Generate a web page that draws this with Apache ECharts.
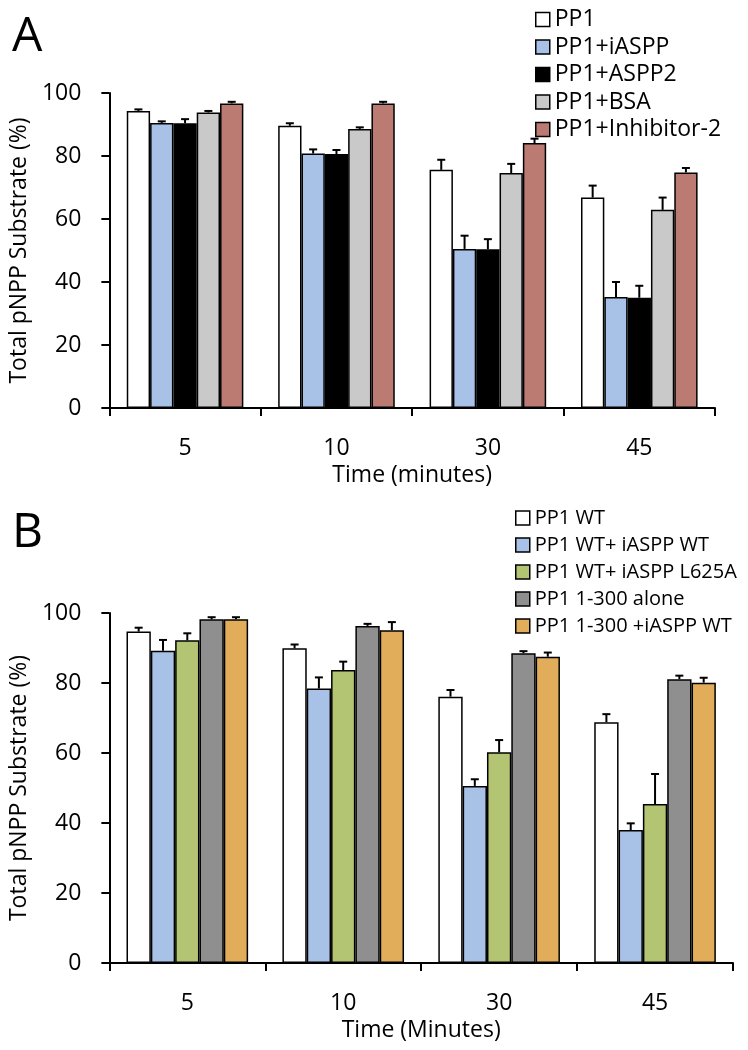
<!DOCTYPE html>
<html>
<head>
<meta charset="utf-8">
<script src="https://cdn.jsdelivr.net/npm/echarts@6/dist/echarts.min.js"></script>
<style>html,body{margin:0;padding:0;background:#fff}#c{width:748px;height:1050px}</style>
</head>
<body>
<div id="c"></div>
<script>
var categories = ['5', '10', '30', '45'];
var yTicks = [0, 20, 40, 60, 80, 100];

// Panel A
var namesA = ['PP1', 'PP1+iASPP', 'PP1+ASPP2', 'PP1+BSA', 'PP1+Inhibitor-2'];
var a_PP1 = [94.3, 89.6, 75.6, 66.8];
var a_PP1_err = [0.5, 0.8, 3.2, 3.8];
var a_iASPP = [90.5, 80.8, 50.5, 35.2];
var a_iASPP_err = [0.5, 1.3, 4.2, 4.8];
var a_ASPP2 = [90.4, 80.6, 50.4, 35.0];
var a_ASPP2_err = [1.3, 1.3, 3.2, 3.8];
var a_BSA = [93.8, 88.6, 74.6, 62.9];
var a_BSA_err = [0.5, 0.5, 2.9, 3.9];
var a_Inh2 = [96.7, 96.7, 84.1, 74.8];
var a_Inh2_err = [0.5, 0.5, 1.4, 1.4];

// Panel B
var namesB = ['PP1 WT', 'PP1 WT+ iASPP WT', 'PP1 WT+ iASPP L625A', 'PP1 1-300 alone', 'PP1 1-300 +iASPP WT'];
var b_WT = [94.7, 89.9, 76.1, 68.8];
var b_WT_err = [1.1, 1.1, 1.9, 2.3];
var b_WT_iASPP = [89.2, 78.4, 50.6, 38.0];
var b_WT_iASPP_err = [3.1, 3.2, 1.9, 1.9];
var b_WT_L625A = [92.2, 83.7, 60.2, 45.4];
var b_WT_L625A_err = [2.0, 2.4, 3.5, 8.6];
var b_300 = [98.2, 96.3, 88.5, 81.1];
var b_300_err = [0.6, 0.6, 0.6, 1.0];
var b_300_iASPP = [98.2, 95.1, 87.5, 80.1];
var b_300_iASPP_err = [0.6, 2.3, 1.2, 1.4];

var colorsA = ['#ffffff', '#a8c2e7', '#000000', '#c9c9c9', '#bb7b73'];
var colorsB = ['#ffffff', '#a8c2e7', '#b3c572', '#8f8f8f', '#e2ad5a'];

var valsA = [a_PP1, a_iASPP, a_ASPP2, a_BSA, a_Inh2];
var errsA = [a_PP1_err, a_iASPP_err, a_ASPP2_err, a_BSA_err, a_Inh2_err];
var valsB = [b_WT, b_WT_iASPP, b_WT_L625A, b_300, b_300_iASPP];
var errsB = [b_WT_err, b_WT_iASPP_err, b_WT_L625A_err, b_300_err, b_300_iASPP_err];

var FONT = 'Open Sans';
var gapA = 0.23, gapB = 0.22;

function makeErr(k, n, gap, axisIdx, vals, errs) {
  var data = vals.map(function (v, i) { return [i, v, errs[i]]; });
  return {
    type: 'custom',
    xAxisIndex: axisIdx, yAxisIndex: axisIdx,
    z: 5,
    silent: true,
    data: data,
    renderItem: function (params, api) {
      var cat = api.value(0), val = api.value(1), err = api.value(2);
      var base = api.coord([cat, val]);
      var top = api.coord([cat, val + err]);
      var band = api.size([1, 0])[0];
      var bw = band * (1 - gap) / n;
      var x = base[0] + (k - (n - 1) / 2) * bw;
      var st = { stroke: '#000', lineWidth: 2 };
      return {
        type: 'group',
        children: [
          { type: 'line', shape: { x1: x, y1: base[1], x2: x, y2: top[1] }, style: st },
          { type: 'line', shape: { x1: x - 4, y1: top[1], x2: x + 4, y2: top[1] }, style: st }
        ]
      };
    }
  };
}

var series = [];
namesA.forEach(function (nm, k) {
  series.push({
    type: 'bar', name: nm, xAxisIndex: 0, yAxisIndex: 0,
    data: valsA[k], barGap: '0%', barCategoryGap: (gapA * 100) + '%',
    itemStyle: { color: colorsA[k], borderColor: '#000', borderWidth: 1.5 }
  });
});
namesB.forEach(function (nm, k) {
  series.push({
    type: 'bar', name: nm, xAxisIndex: 1, yAxisIndex: 1,
    data: valsB[k], barGap: '0%', barCategoryGap: (gapB * 100) + '%',
    itemStyle: { color: colorsB[k], borderColor: '#000', borderWidth: 1.5 }
  });
});
namesA.forEach(function (nm, k) { series.push(makeErr(k, 5, gapA, 0, valsA[k], errsA[k])); });
namesB.forEach(function (nm, k) { series.push(makeErr(k, 5, gapB, 1, valsB[k], errsB[k])); });

function xAxis(idx, name) {
  return {
    type: 'category', gridIndex: idx, data: categories,
    name: name, nameLocation: 'middle', nameGap: 56,
    nameTextStyle: { fontFamily: FONT, fontSize: 23, color: '#000' },
    axisLine: { lineStyle: { color: '#000', width: 2 } },
    axisTick: { show: true, length: 8, lineStyle: { color: '#000', width: 2 } },
    axisLabel: { fontFamily: FONT, fontSize: 23, color: '#000', margin: 29 }
  };
}
function yAxis(idx) {
  return {
    type: 'value', gridIndex: idx, min: 0, max: 100, interval: 20,
    name: 'Total pNPP Substrate (%)', nameLocation: 'middle', nameGap: 68, nameRotate: 90,
    nameTextStyle: { fontFamily: FONT, fontSize: 23, color: '#000' },
    axisLine: { show: true, lineStyle: { color: '#000', width: 2 } },
    axisTick: { show: true, length: 8, lineStyle: { color: '#000', width: 2 } },
    axisLabel: { fontFamily: FONT, fontSize: 23, color: '#000', margin: 28 },
    splitLine: { show: false }
  };
}

var chart = echarts.init(document.getElementById('c'), null, { renderer: 'canvas' });
chart.setOption({
  backgroundColor: '#fff',
  animation: false,
  title: [
    { text: 'A', left: 7, top: 8, textStyle: { fontFamily: FONT, fontSize: 48, fontWeight: 'normal', color: '#000' } },
    { text: 'B', left: 7, top: 504, textStyle: { fontFamily: FONT, fontSize: 48, fontWeight: 'normal', color: '#000' } }
  ],
  legend: [
    {
      data: namesA, orient: 'vertical', left: 530, top: 3,
      itemWidth: 14, itemHeight: 14, itemGap: 4.5, icon: 'rect',
      itemStyle: { borderColor: '#000', borderWidth: 1.5 },
      textStyle: { fontFamily: FONT, fontSize: 23, lineHeight: 22, color: '#000' }
    },
    {
      data: namesB, orient: 'vertical', left: 510, top: 502,
      itemWidth: 14, itemHeight: 14, itemGap: 5, icon: 'rect',
      itemStyle: { borderColor: '#000', borderWidth: 1.5 },
      textStyle: { fontFamily: FONT, fontSize: 20, lineHeight: 22, color: '#000' }
    }
  ],
  grid: [
    { left: 103, right: 33, top: 93, height: 315 },
    { left: 101, right: 15, top: 613, height: 350 }
  ],
  xAxis: [xAxis(0, 'Time (minutes)'), xAxis(1, 'Time (Minutes)')],
  yAxis: [yAxis(0), yAxis(1)],
  series: series
});
</script>
</body>
</html>
